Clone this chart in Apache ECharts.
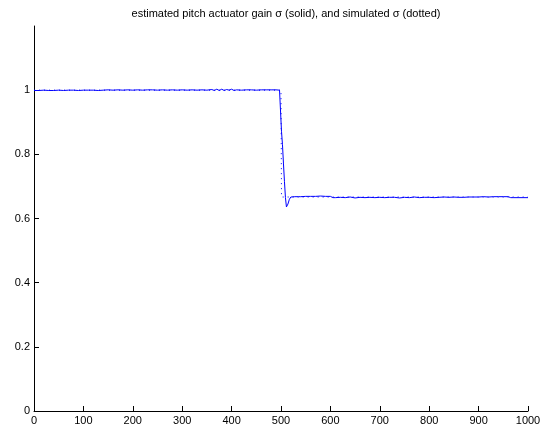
<!DOCTYPE html>
<html>
<head>
<meta charset="utf-8">
<script src="https://cdn.jsdelivr.net/npm/echarts@6/dist/echarts.min.js"></script>
<style>
  html, body { margin: 0; padding: 0; background: #fff; }
  #chart { width: 549px; height: 434px; }
</style>
</head>
<body>
<div id="chart"></div>
<script>
// Estimated gain: sample times and values
var tEst = [
  0, 10, 20, 30, 40, 50, 60, 70, 80, 90,
  100, 110, 120, 130, 140, 150, 160, 170, 180, 190,
  200, 210, 220, 230, 240, 250, 260, 270, 280, 290,
  300, 310, 320, 330, 340, 350, 360, 365, 370, 375, 380, 385, 390, 395,
  400, 405, 410, 420, 430, 440, 450, 460, 470, 480, 490, 497,
  500, 501, 503, 505, 507, 509, 511, 514, 517, 520, 524, 528, 535,
  540, 550, 560, 570, 580, 590, 600, 605, 610, 620, 630, 640, 650, 660, 670, 680, 690,
  700, 710, 720, 730, 740, 750, 760, 770, 780, 790,
  800, 810, 820, 830, 840, 850, 860, 870, 880, 890,
  900, 910, 920, 930, 940, 950, 960, 965, 970, 980, 990, 1000
];
var sigmaEst = [
  0.999, 0.999, 1.000, 0.999, 0.999, 1.000, 0.999, 1.000, 1.000, 0.999,
  1.000, 1.000, 1.000, 0.999, 1.000, 1.001, 1.000, 1.001, 1.000, 1.001,
  1.000, 1.001, 1.000, 1.001, 1.001, 1.000, 1.001, 1.000, 1.001, 1.000,
  1.001, 1.000, 1.001, 1.000, 1.001, 1.000, 1.002, 0.999, 1.003, 0.999, 1.003, 0.999, 1.002, 1.000,
  1.003, 0.999, 1.001, 1.000, 1.001, 1.001, 1.000, 1.001, 1.001, 1.001, 1.001, 1.000,
  1.000, 0.872, 0.830, 0.770, 0.715, 0.665, 0.636, 0.645, 0.660, 0.667, 0.672, 0.668, 0.668,
  0.668, 0.669, 0.669, 0.669, 0.670, 0.669, 0.669, 0.665, 0.665, 0.666, 0.665, 0.667, 0.664, 0.666, 0.665, 0.666, 0.665,
  0.666, 0.665, 0.666, 0.666, 0.664, 0.666, 0.665, 0.667, 0.665, 0.666,
  0.666, 0.665, 0.666, 0.667, 0.666, 0.667, 0.666, 0.666, 0.667, 0.667,
  0.667, 0.668, 0.667, 0.668, 0.668, 0.668, 0.668, 0.665, 0.665, 0.665, 0.665, 0.665
];

// Simulated gain: step from 1 to 2/3 at t = 500
var tSim = [0, 500, 501, 1000];
var sigmaSim = [1.0, 1.0, 0.667, 0.667];

var xTicks = [0, 100, 200, 300, 400, 500, 600, 700, 800, 900, 1000];
var yTicks = [0, 0.2, 0.4, 0.6, 0.8, 1];

var titleText = 'estimated pitch actuator gain \u03C3 (solid), and simulated \u03C3 (dotted)';

function pairs(xs, ys) {
  return xs.map(function (x, i) { return [x, ys[i]]; });
}

var chart = echarts.init(document.getElementById('chart'), null, { renderer: 'canvas' });
var font = 'Liberation Sans, Arial, Helvetica, sans-serif';

chart.setOption({
  animation: false,
  backgroundColor: '#ffffff',
  title: {
    text: titleText,
    left: 281,
    textAlign: 'center',
    top: 3,
    textStyle: { fontFamily: font, fontSize: 11, fontWeight: 'normal', color: '#000' }
  },
  grid: { left: 34, right: 21, top: 26, bottom: 23, containLabel: false },
  xAxis: {
    type: 'value',
    min: 0, max: 1000, interval: 100,
    axisLine: { show: true, onZero: false, lineStyle: { color: '#000', width: 1 } },
    axisTick: { show: true, inside: true, length: 5, lineStyle: { color: '#000' }, customValues: xTicks },
    axisLabel: {
      color: '#000', fontFamily: font, fontSize: 11, margin: 4, customValues: xTicks,
      formatter: function (v) { return String(v); }
    },
    splitLine: { show: false }
  },
  yAxis: {
    type: 'value',
    min: 0, max: 1.2, interval: 0.2,
    axisLine: { show: true, onZero: false, lineStyle: { color: '#000', width: 1 } },
    axisTick: { show: true, inside: true, length: 5, lineStyle: { color: '#000' }, customValues: yTicks },
    axisLabel: {
      color: '#000', fontFamily: font, fontSize: 11, margin: 4, customValues: yTicks,
      formatter: function (v) { return String(Math.round(v * 10) / 10); }
    },
    splitLine: { show: false }
  },
  series: [
    {
      name: 'simulated',
      type: 'line',
      data: pairs(tSim, sigmaSim),
      showSymbol: false,
      symbol: 'none',
      lineStyle: { color: '#0000ff', width: 1, type: [1, 4] },
      z: 2
    },
    {
      name: 'estimated',
      type: 'line',
      data: pairs(tEst, sigmaEst),
      showSymbol: false,
      symbol: 'none',
      lineStyle: { color: '#0000ff', width: 1 },
      z: 3
    }
  ]
});
</script>
</body>
</html>
